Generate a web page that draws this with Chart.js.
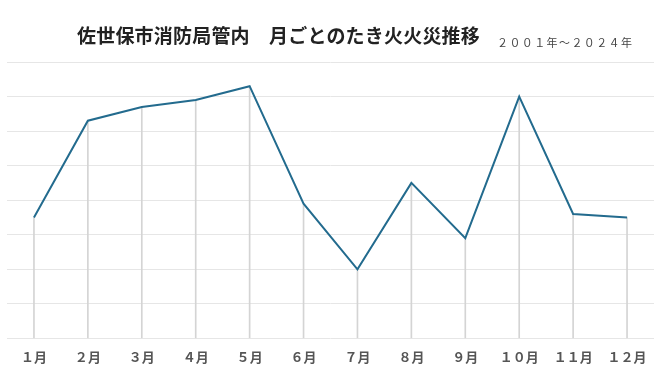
<!DOCTYPE html>
<html lang="ja">
<head>
<meta charset="UTF-8">
<title>月ごとのたき火火災推移</title>
<script src="https://cdn.jsdelivr.net/npm/chart.js@4/dist/chart.umd.min.js"></script>
<style>
	body { margin: 0; background: #fff; font-family: "Noto Sans CJK JP", sans-serif; }
	#wrap { position: relative; width: 660px; height: 372px; }
	#title { position: absolute; left: 77px; top: 21px; font-size: 19px; font-weight: bold; color: #222; white-space: pre; letter-spacing: 0.2px; }
	#sub { position: absolute; left: 497px; top: 34px; font-size: 11px; color: #444; letter-spacing: 1.4px; }
	#chart-box { position: absolute; left: 0; top: 0; width: 660px; height: 372px; }
</style>
</head>
<body>
<div id="wrap">
	<div id="chart-box"><canvas id="myChart" width="660" height="372"></canvas></div>
	<div id="title">佐世保市消防局管内　月ごとのたき火火災推移</div>
	<div id="sub">２００１年～２０２４年</div>
</div>

<script>
	const months = ['１月', '２月', '３月', '４月', '５月', '６月', '７月', '８月', '９月', '１０月', '１１月', '１２月']
	const fires = [35, 63, 67, 69, 73, 39, 20, 45, 29, 70, 36, 35]

	var ctx = document.getElementById('myChart').getContext('2d')

	new Chart(ctx, {
		data: {
			labels: months,
			datasets: [{
				type: 'line',
				data: fires,
				borderColor: '#236b8e',
				borderWidth: 2,
				pointRadius: 0,
				tension: 0,
				order: 0
			}, {
				// drop lines from each point to the base
				type: 'bar',
				data: fires,
				backgroundColor: '#d4d4d4',
				barThickness: 1,
				order: 1
			}]
		},
		options: {
			responsive: false,
			animation: false,
			devicePixelRatio: 1,
			layout: { padding: { top: 62, left: 7, right: 6, bottom: 4 } },
			plugins: { legend: { display: false }, tooltip: { enabled: false } },
			scales: {
				x: {
					offset: true,
					grid: { display: false },
					border: { display: false },
					ticks: { autoSkip: false, color: '#555', font: { size: 13, weight: 'bold', family: '"Noto Sans CJK JP"' }, padding: 3, maxRotation: 0 }
				},
				y: {
					min: 0, max: 80,
					ticks: { display: false, stepSize: 10 },
					border: { display: false },
					grid: { color: '#e6e6e6', drawTicks: false }
				}
			}
		}
	})
</script>
</body>
</html>
